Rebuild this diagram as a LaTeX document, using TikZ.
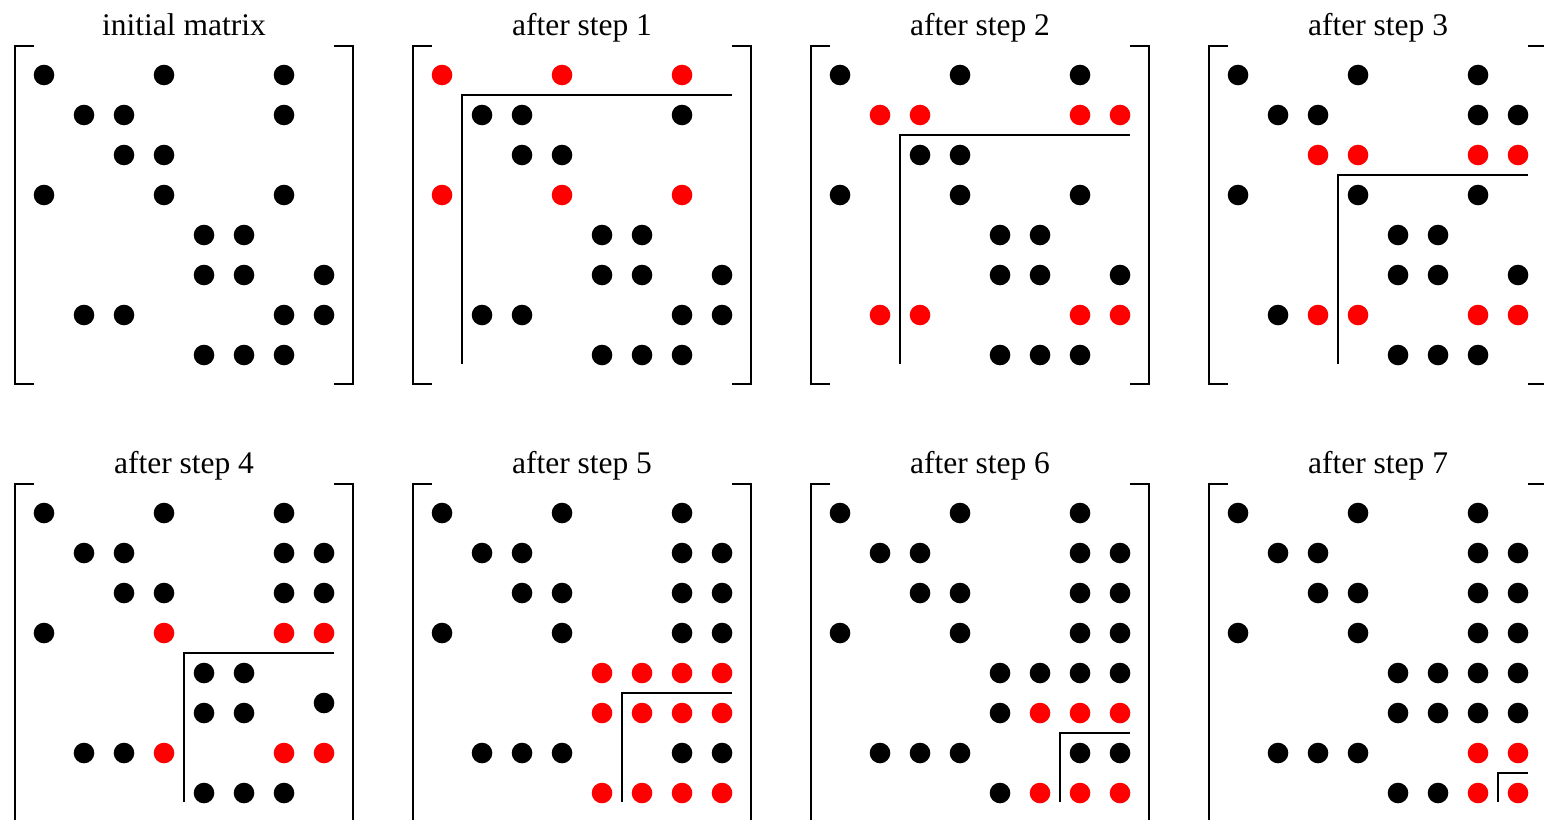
\documentclass[tikz,border=0pt]{standalone}
\usepackage{fontspec}
\setmainfont{Liberation Serif}
\tikzset{
  bdot/.style={circle,fill=black,draw=none,inner sep=0pt,minimum size=20.6pt},
  rdot/.style={circle,fill=red,draw=none,inner sep=0pt,minimum size=20.6pt},
  bracketline/.style={line width=1.8pt,line cap=butt,line join=miter},
  lline/.style={line width=1.8pt,line join=miter},
  mtitle/.style={anchor=base,inner sep=0pt,font=\fontsize{31.5}{36}\selectfont}
}
\newcommand{\mybrackets}{%
  \draw[bracketline] (34,46) -- (15,46) -- (15,384) -- (34,384);
  \draw[bracketline] (334,46) -- (353,46) -- (353,384) -- (334,384);}
\newcommand{\mydots}[3]{% #1 name, #2 black list, #3 red list
  \foreach \i/\j in {#2} \node[bdot] (#1-\i-\j) at ({4+40*\j},{35+40*\i}) {};
  \foreach \i/\j in {#3} \node[rdot] (#1-\i-\j) at ({4+40*\j},{35+40*\i}) {};}
\newcommand{\myL}[1]{%
  \draw[lline] ({24+40*#1},364) |- (334,{55+40*#1});}
\begin{document}
\begin{tikzpicture}[x=1pt,y=-1pt]
\useasboundingbox (0,0) rectangle (1544,819);
\clip (0,0) rectangle (1544,819);
% initial matrix
\begin{scope}[shift={(0,0)}]
  \node[mtitle] (t0) at (184,35) {initial matrix};
  \mybrackets
  \foreach \i/\j in {1/1,1/4,1/7,2/2,2/3,2/7,3/3,3/4,4/1,4/4,4/7,5/5,5/6,6/5,6/6,6/8,7/2,7/3,7/7,7/8,8/5,8/6,8/7}
    \node[bdot] (m0-\i-\j) at ({4+40*\j},{35+40*\i}) {};
\end{scope}
% after step 1
\begin{scope}[shift={(398,0)}]
  \node[mtitle] (t1) at (184,35) {after step 1};
  \mybrackets
  \mydots{m1}{2/2,2/3,2/7,3/3,3/4,5/5,5/6,6/5,6/6,6/8,7/2,7/3,7/7,7/8,8/5,8/6,8/7}{1/1,1/4,1/7,4/1,4/4,4/7}
  \myL{1}
\end{scope}
% after step 2
\begin{scope}[shift={(796,0)}]
  \node[mtitle] (t2) at (184,35) {after step 2};
  \mybrackets
  \mydots{m2}{1/1,1/4,1/7,3/3,3/4,4/1,4/4,4/7,5/5,5/6,6/5,6/6,6/8,8/5,8/6,8/7}{2/2,2/3,2/7,2/8,7/2,7/3,7/7,7/8}
  \myL{2}
\end{scope}
% after step 3
\begin{scope}[shift={(1194,0)}]
  \node[mtitle] (t3) at (184,35) {after step 3};
  \mybrackets
  \mydots{m3}{1/1,1/4,1/7,2/2,2/3,2/7,2/8,4/1,4/4,4/7,5/5,5/6,6/5,6/6,6/8,7/2,8/5,8/6,8/7}{3/3,3/4,3/7,3/8,7/3,7/4,7/7,7/8}
  \myL{3}
\end{scope}
% after step 4
\begin{scope}[shift={(0,438)}]
  \node[mtitle] (t4) at (184,35) {after step 4};
  \mybrackets
  \mydots{m4}{1/1,1/4,1/7,2/2,2/3,2/7,2/8,3/3,3/4,3/7,3/8,4/1,5/5,5/6,6/5,6/6,7/2,7/3,8/5,8/6,8/7}{4/4,4/7,4/8,7/4,7/7,7/8}
  \node[bdot] (m4-6-8) at (324,265) {};
  \myL{4}
\end{scope}
% after step 5
\begin{scope}[shift={(398,438)}]
  \node[mtitle] (t5) at (184,35) {after step 5};
  \mybrackets
  \mydots{m5}{1/1,1/4,1/7,2/2,2/3,2/7,2/8,3/3,3/4,3/7,3/8,4/1,4/4,4/7,4/8,7/2,7/3,7/4,7/7,7/8}{5/5,5/6,5/7,5/8,6/5,6/6,6/7,6/8,8/5,8/6,8/7,8/8}
  \myL{5}
\end{scope}
% after step 6
\begin{scope}[shift={(796,438)}]
  \node[mtitle] (t6) at (184,35) {after step 6};
  \mybrackets
  \mydots{m6}{1/1,1/4,1/7,2/2,2/3,2/7,2/8,3/3,3/4,3/7,3/8,4/1,4/4,4/7,4/8,5/5,5/6,5/7,5/8,6/5,7/2,7/3,7/4,7/7,7/8,8/5}{6/6,6/7,6/8,8/6,8/7,8/8}
  \myL{6}
\end{scope}
% after step 7
\begin{scope}[shift={(1194,438)}]
  \node[mtitle] (t7) at (184,35) {after step 7};
  \mybrackets
  \mydots{m7}{1/1,1/4,1/7,2/2,2/3,2/7,2/8,3/3,3/4,3/7,3/8,4/1,4/4,4/7,4/8,5/5,5/6,5/7,5/8,6/5,6/6,6/7,6/8,7/2,7/3,7/4,8/5,8/6}{7/7,7/8,8/7,8/8}
  \myL{7}
\end{scope}
\end{tikzpicture}
\end{document}
